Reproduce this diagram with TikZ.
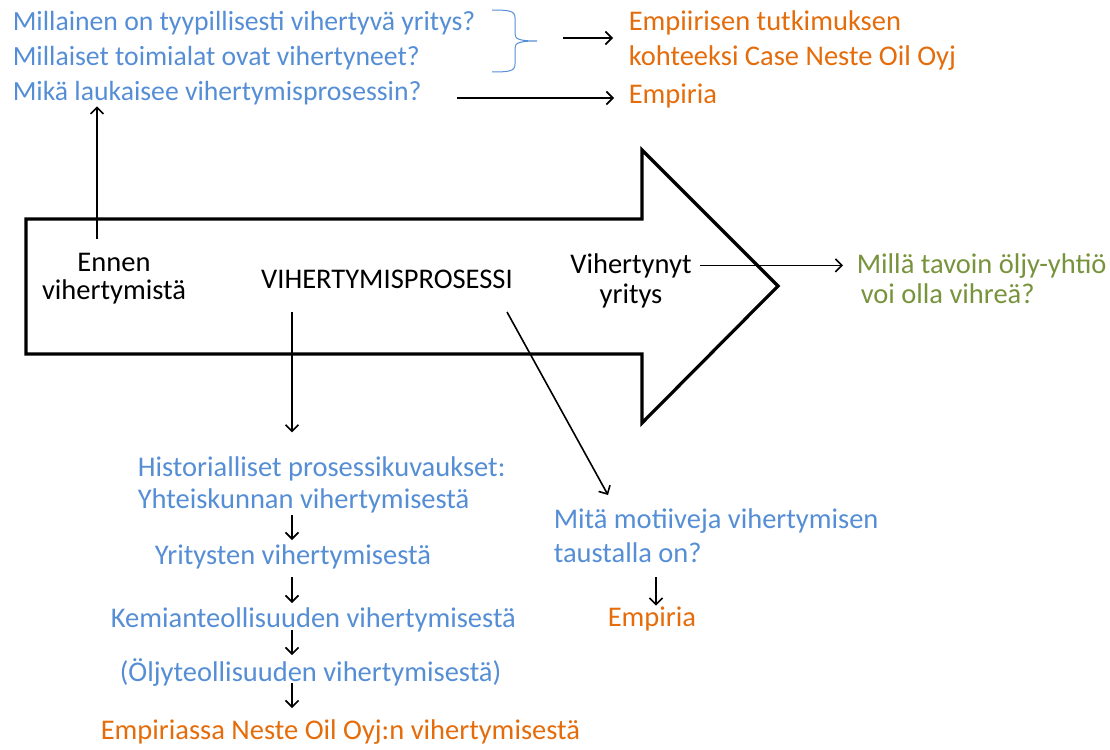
\documentclass[tikz,border=0pt]{standalone}
\usepackage{fontspec}
\setmainfont{Carlito}
\usetikzlibrary{arrows.meta}
\definecolor{qblue}{HTML}{558ED5}
\definecolor{qorange}{HTML}{E46C0A}
\definecolor{qgreen}{HTML}{77933C}
\tikzset{
    txt/.style={inner sep=0pt, anchor=base west, font=\fontsize{28.5}{34}\selectfont},
    ctxt/.style={txt, anchor=base},
    qtxt/.style={txt, text=qblue, font=\fontsize{27.7}{34}\selectfont},
    bigarrow/.style={line width=3.2pt, line join=miter}
}
\begin{document}
\begin{tikzpicture}[x=1pt, y=-1pt, line width=1.6pt, >={Straight Barb[length=6.5pt,width=13pt]}]
        \useasboundingbox (0,0) rectangle (1110,749);
        % iso nuoli
        \draw[bigarrow] (26,219) -- (642,219) -- (642,150) -- (778,286) -- (642,423) -- (642,354) -- (26,354) -- cycle;
        % kysymykset ylhaalla
        \node[qtxt] (q1) at (12,31) {Millainen on tyypillisesti vihertyvä yritys?};
        \node[qtxt] (q2) at (12,66) {Millaiset toimialat ovat vihertyneet?};
        \node[qtxt] (q3) at (12,101) {Mikä laukaisee vihertymisprosessin?};
        \node[txt, text=qorange] (e1) at (628,31) {Empiirisen tutkimuksen};
        \node[txt, text=qorange] (e2) at (628,66) {kohteeksi Case Neste Oil Oyj};
        \node[txt, text=qorange] (e3) at (628,104) {Empiria};
        \draw[qblue, line width=1pt] (492,10) .. controls (510,10) and (515,11) .. (515,18) -- (515,34)
            .. controls (515,39) and (519,41) .. (537,41) .. controls (519,41) and (515,43) .. (515,48)
            -- (515,64) .. controls (515,71) and (510,72) .. (492,72);
        \coordinate (bt) at (563,38);
        \coordinate (m3) at (457,98);
        \draw[->, shorten >=15pt] (bt) -- (bt -| e1.west);
        \draw[->, shorten >=14pt] (m3) -- (m3 -| e3.west);
        % nuolen sisalla
        \node[ctxt] (en1) at (114,271) {Ennen};
        \node[ctxt] (en2) at (114,299) {vihertymistä};
        \node[ctxt] (vp) at (387,288) {VIHERTYMISPROSESSI};
        \node[ctxt] (vy1) at (631,273) {Vihertynyt};
        \node[ctxt] (vy2) at (631,303) {yritys};
        \coordinate (up) at (97,239);
        \draw[->] (up) -- (up |- q3.south);
        \node[txt, text=qgreen] (g1) at (856,273) {Millä tavoin öljy-yhtiö};
        \node[txt, text=qgreen] (g2) at (860,303) {voi olla vihreä?};
        \draw[->, shorten <=8pt, shorten >=13pt] (vy1.east) -- (vy1.east -| g1.west);
        % historia
        \node[txt, text=qblue] (hi) at (137,476) {Historialliset prosessikuvaukset:};
        \node[txt, text=qblue] (yh) at (137,508) {Yhteiskunnan vihertymisestä};
        \node[txt, text=qblue] (yr) at (154,564) {Yritysten vihertymisestä};
        \node[txt, text=qblue] (ke) at (110,627) {Kemianteollisuuden vihertymisestä};
        \node[txt, text=qblue] (ol) at (119,681) {(Öljyteollisuuden vihertymisestä)};
        \node[txt, text=qorange] (ne) at (100,739) {Empiriassa Neste Oil Oyj:n vihertymisestä};
        \coordinate (v1) at (292,312);
        \draw[->, shorten >=23pt] (v1) -- (v1 |- hi.north);
        \foreach \a/\b [count=\i] in {515/540, 577/603, 630/655, 683/708}{
            \coordinate (s\i) at (292,\a);
            \coordinate (t\i) at (292,\b);
            \draw[->] (s\i) -- (t\i);
        }
        % motiivit
        \node[txt, text=qblue] (mo1) at (553,528) {Mitä motiiveja vihertymisen};
        \node[txt, text=qblue] (mo2) at (553,562) {taustalla on?};
        \node[txt, text=qorange] (em) at (607,626) {Empiria};
        \coordinate (d1) at (507,312);
        \coordinate (d2) at (608,495);
        \draw[->] (d1) -- (d2);
        \coordinate (m1) at (656,577);
        \draw[->] (m1) -- (m1 |- em.north);
\end{tikzpicture}
\end{document}
